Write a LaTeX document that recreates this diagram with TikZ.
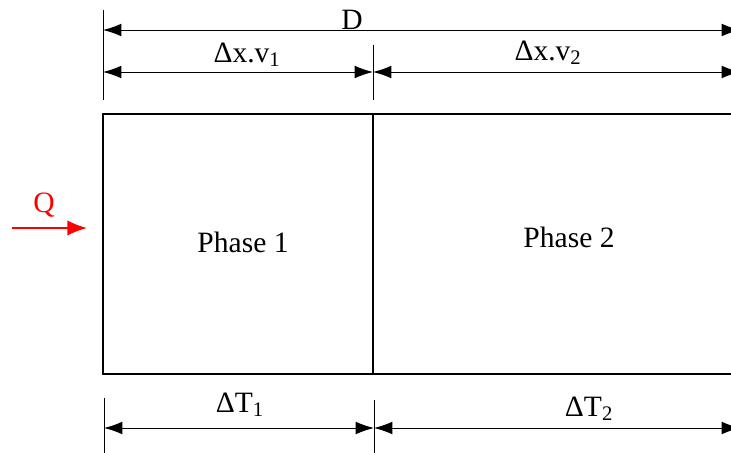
\documentclass[tikz,border=0pt]{standalone}
\usepackage{fontspec}
\setmainfont{Liberation Serif}
\usetikzlibrary{arrows.meta,positioning}

\begin{document}
\begin{tikzpicture}[x=0.025cm,y=-0.025cm,
    dim/.style={line width=0.7pt,{Latex[length=13pt,width=9pt]}-{Latex[length=13pt,width=9pt]}},
    tick/.style={line width=0.7pt},
    wall/.style={line width=1.3pt},
    lbl/.style={font=\fontsize{21}{24}\selectfont,inner sep=0pt}]
    \useasboundingbox (0,0) rectangle (731,453);
    \clip (0,0) rectangle (731,453);

    % extension lines
    \path
    (103,10) coordinate(tl) (103,100) coordinate(bl)
    (373,45) coordinate(tm) (373,100) coordinate(bm)
    (104,398) coordinate(tl2) (104,453) coordinate(bl2)
    (374,400) coordinate(tm2) (374,453) coordinate(bm2);
    \draw[tick] (tl) -- (bl) (tm) -- (bm) (tl2) -- (bl2) (tm2) -- (bm2);

    % dimension arrows
    \path
    (103,30) coordinate(Dl) (740,30) coordinate(Dr)
    (103,72) coordinate(Al) (373,72) coordinate(Am) (740,72) coordinate(Ar)
    (104,428) coordinate(Bl) (374,428) coordinate(Bm) (740,428) coordinate(Br);
    \draw[dim] (Dl) -- (Dr);
    \draw[dim] (Al) -- (Am);
    \draw[dim] (Am) -- (Ar);
    \draw[dim] (Bl) -- (Bm);
    \draw[dim] (Bm) -- (Br);

    \node[lbl] (D) at (352,20) {D};
    \node[lbl] (dx1) at (247,55) {Δx.v\textsubscript{1}};
    \node[lbl] (dx2) at (548,53) {Δx.v\textsubscript{2}};
    \node[lbl] (dT1) at (240,405) {ΔT\textsubscript{1}};
    \node[lbl] (dT2) at (589,409) {ΔT\textsubscript{2}};

    % the two phases
    \path
    (103,114) coordinate(c1) (373,114) coordinate(c2) (770,114) coordinate(c3)
    (103,374) coordinate(c4) (373,374) coordinate(c5) (770,374) coordinate(c6);
    \draw[wall] (c3) -- (c1) -- (c4) -- (c6);
    \draw[wall] (c2) -- (c5);
    \node[lbl] (ph1) at (243,242) {Phase 1};
    \node[lbl] (ph2) at (569,237) {Phase 2};

    % heat input
    \path (12,228) coordinate(qs) (87,228) coordinate(qe);
    \draw[red,line width=1.3pt,-{Latex[length=14pt,width=11pt]}] (qs) -- (qe);
    \node[lbl,red] (Q) at (44,205) {Q};
\end{tikzpicture}
\end{document}
